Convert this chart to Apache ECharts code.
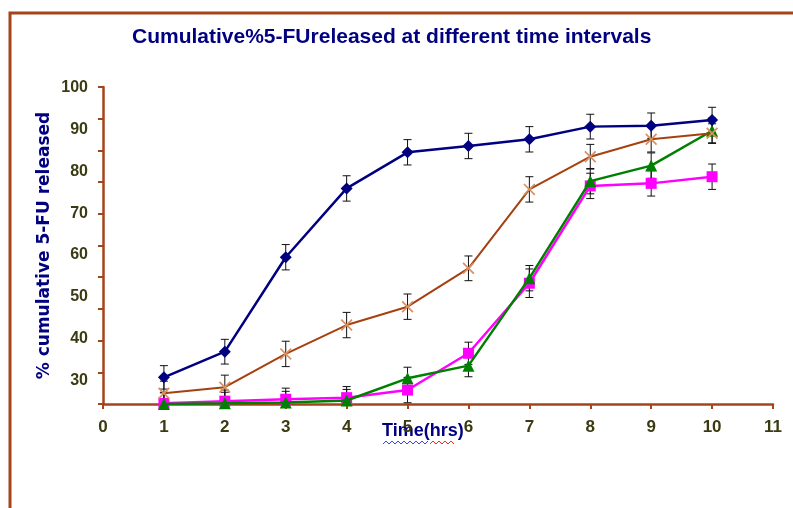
<!DOCTYPE html>
<html>
<head>
<meta charset="utf-8">
<script src="https://cdn.jsdelivr.net/npm/echarts@6/dist/echarts.min.js"></script>
<style>
  html, body { margin: 0; padding: 0; background: #fff; }
  #chart { width: 793px; height: 508px; }
</style>
</head>
<body>
<div id="chart"></div>
<script>
// time points (hrs)
const hours = [1, 2, 3, 4, 5, 6, 7, 8, 9, 10];

// cumulative % released
const seriesBlue  = [8.4, 16.5, 46.3, 68.0, 79.4, 81.4, 83.5, 87.5, 87.8, 89.6];
const seriesBrown = [3.4, 5.3, 15.8, 24.9, 30.7, 42.8, 67.7, 78.0, 83.5, 85.4];
const seriesPink  = [0.2, 0.9, 1.5, 2.0, 4.4, 16.0, 38.1, 68.8, 69.6, 71.7];
const seriesGreen = [0.0, 0.2, 0.5, 1.1, 8.1, 12.1, 39.7, 70.3, 75.2, 86.2];

// error (+/-) per point
const errBlue  = [3.7, 3.9, 4.0, 4.0, 4.0, 4.0, 4.0, 3.9, 4.0, 4.0];
const errBrown = [3.8, 3.8, 4.0, 4.0, 4.0, 3.9, 4.0, 3.9, 4.0, 3.0];
const errPink  = [3.5, 3.5, 3.5, 3.5, 4.0, 3.5, 4.5, 4.0, 4.0, 4.0];
const errGreen = [3.5, 3.5, 3.5, 3.5, 3.5, 3.5, 4.0, 4.0, 4.0, 4.0];

// tick labels shown on the left
const yLabels = [30, 40, 50, 60, 70, 80, 90, 100];

const chart = echarts.init(document.getElementById('chart'));

const brown = '#a5441a';
const labelColor = '#3b3b12';
const navy = '#000080';
const font = '"Liberation Sans", Arial, sans-serif';

const xMark = 'path://M0,1 L1,0 L5,4 L9,0 L10,1 L6,5 L10,9 L9,10 L5,6 L1,10 L0,9 L4,5 Z';

function pairs(vals) {
  return hours.map((h, i) => [h, vals[i]]);
}
function errData(vals, errs) {
  return hours.map((h, i) => [h, Math.max(0, vals[i] - errs[i]), vals[i] + errs[i]]);
}

function errorBars(vals, errs) {
  return {
    type: 'custom',
    xAxisIndex: 0,
    yAxisIndex: 0,
    z: 1,
    silent: true,
    data: errData(vals, errs),
    renderItem: function (params, api) {
      const x = api.value(0);
      const lo = api.coord([x, api.value(1)]);
      const hi = api.coord([x, api.value(2)]);
      const w = 4;
      const st = { stroke: '#111', lineWidth: 1 };
      return {
        type: 'group',
        children: [
          { type: 'line', shape: { x1: lo[0], y1: lo[1], x2: hi[0], y2: hi[1] }, style: st },
          { type: 'line', shape: { x1: hi[0] - w, y1: hi[1], x2: hi[0] + w, y2: hi[1] }, style: st },
          { type: 'line', shape: { x1: lo[0] - w, y1: lo[1], x2: lo[0] + w, y2: lo[1] }, style: st }
        ]
      };
    }
  };
}

const option = {
  backgroundColor: '#fff',
  animation: false,
  title: {
    text: 'Cumulative%5-FUreleased at different time intervals',
    left: 127,
    top: 22,
    textStyle: { color: navy, fontSize: 21, fontWeight: 'bold', fontFamily: font }
  },
  grid: [
    { left: 103, right: 20, top: 87, bottom: 104 },
    { left: 103, right: 20, top: 88, bottom: 86 }
  ],
  xAxis: [
    {
      type: 'value',
      gridIndex: 0,
      min: 0,
      max: 11,
      interval: 1,
      axisLine: { show: true, onZero: false, lineStyle: { color: brown, width: 2.5 } },
      axisTick: { show: true, length: 5, lineStyle: { color: brown, width: 2 } },
      splitLine: { show: false },
      axisLabel: { color: labelColor, fontSize: 17, fontWeight: 'bold', fontFamily: font, margin: 15 }
    },
    { type: 'value', gridIndex: 1, min: 0, max: 11, show: false }
  ],
  yAxis: [
    {
      type: 'value',
      gridIndex: 0,
      min: 0,
      max: 100,
      interval: 10,
      name: '% cumulative 5-FU released',
      nameLocation: 'middle',
      nameGap: 50,
      nameTextStyle: { color: navy, fontSize: 17, fontWeight: 'bold', fontFamily: '"DejaVu Sans", sans-serif' },
      axisLine: { show: true, lineStyle: { color: brown, width: 2.5 } },
      axisTick: { show: true, length: 5, lineStyle: { color: brown, width: 2 } },
      splitLine: { show: false },
      axisLabel: { show: false }
    },
    {
      type: 'value',
      gridIndex: 1,
      min: 20,
      max: 100,
      interval: 10,
      axisLine: { show: false },
      axisTick: { show: false },
      splitLine: { show: false },
      axisLabel: {
        color: labelColor, fontSize: 16, fontWeight: 'bold', fontFamily: font, margin: 15,
        formatter: v => (yLabels.indexOf(v) >= 0 ? String(v) : '')
      }
    }
  ],
  graphic: [
    {
      type: 'rect',
      shape: { x: 10, y: 13, width: 900, height: 600 },
      style: { fill: 'none', stroke: brown, lineWidth: 3 },
      silent: true
    },
    {
      type: 'text',
      left: 382,
      top: 422,
      z: 0,
      style: { text: 'Time(hrs)', fill: navy, font: 'bold 18px ' + font }
    },
    {
      type: 'polyline',
      shape: { points: [[383,444],[386,441],[389,444],[392,441],[395,444],[398,441],[401,444],[404,441],[407,444],[410,441],[413,444],[416,441],[419,444],[422,441],[425,444],[428,441]] },
      style: { stroke: '#3344ff', lineWidth: 1, fill: 'none' }
    },
    {
      type: 'polyline',
      shape: { points: [[430,444],[433,441],[436,444],[439,441],[442,444],[445,441],[448,444],[451,441],[454,444]] },
      style: { stroke: '#ff2222', lineWidth: 1, fill: 'none' }
    }
  ],
  series: [
    errorBars(seriesBlue, errBlue),
    errorBars(seriesBrown, errBrown),
    errorBars(seriesPink, errPink),
    errorBars(seriesGreen, errGreen),
    {
      type: 'line',
      data: pairs(seriesPink),
      symbol: 'rect',
      symbolSize: 11,
      z: 3,
      lineStyle: { color: '#ff00ff', width: 2.5 },
      itemStyle: { color: '#ff00ff' }
    },
    {
      type: 'line',
      data: pairs(seriesGreen),
      symbol: 'triangle',
      symbolSize: 12,
      z: 4,
      lineStyle: { color: '#008000', width: 2.5 },
      itemStyle: { color: '#008000' }
    },
    {
      type: 'line',
      data: pairs(seriesBrown),
      symbol: xMark,
      symbolSize: 12,
      z: 5,
      lineStyle: { color: '#a5400f', width: 2 },
      itemStyle: { color: '#d99060' }
    },
    {
      type: 'line',
      data: pairs(seriesBlue),
      symbol: 'diamond',
      symbolSize: 12,
      z: 6,
      lineStyle: { color: navy, width: 2.5 },
      itemStyle: { color: navy }
    }
  ]
};

chart.setOption(option);
</script>
</body>
</html>
